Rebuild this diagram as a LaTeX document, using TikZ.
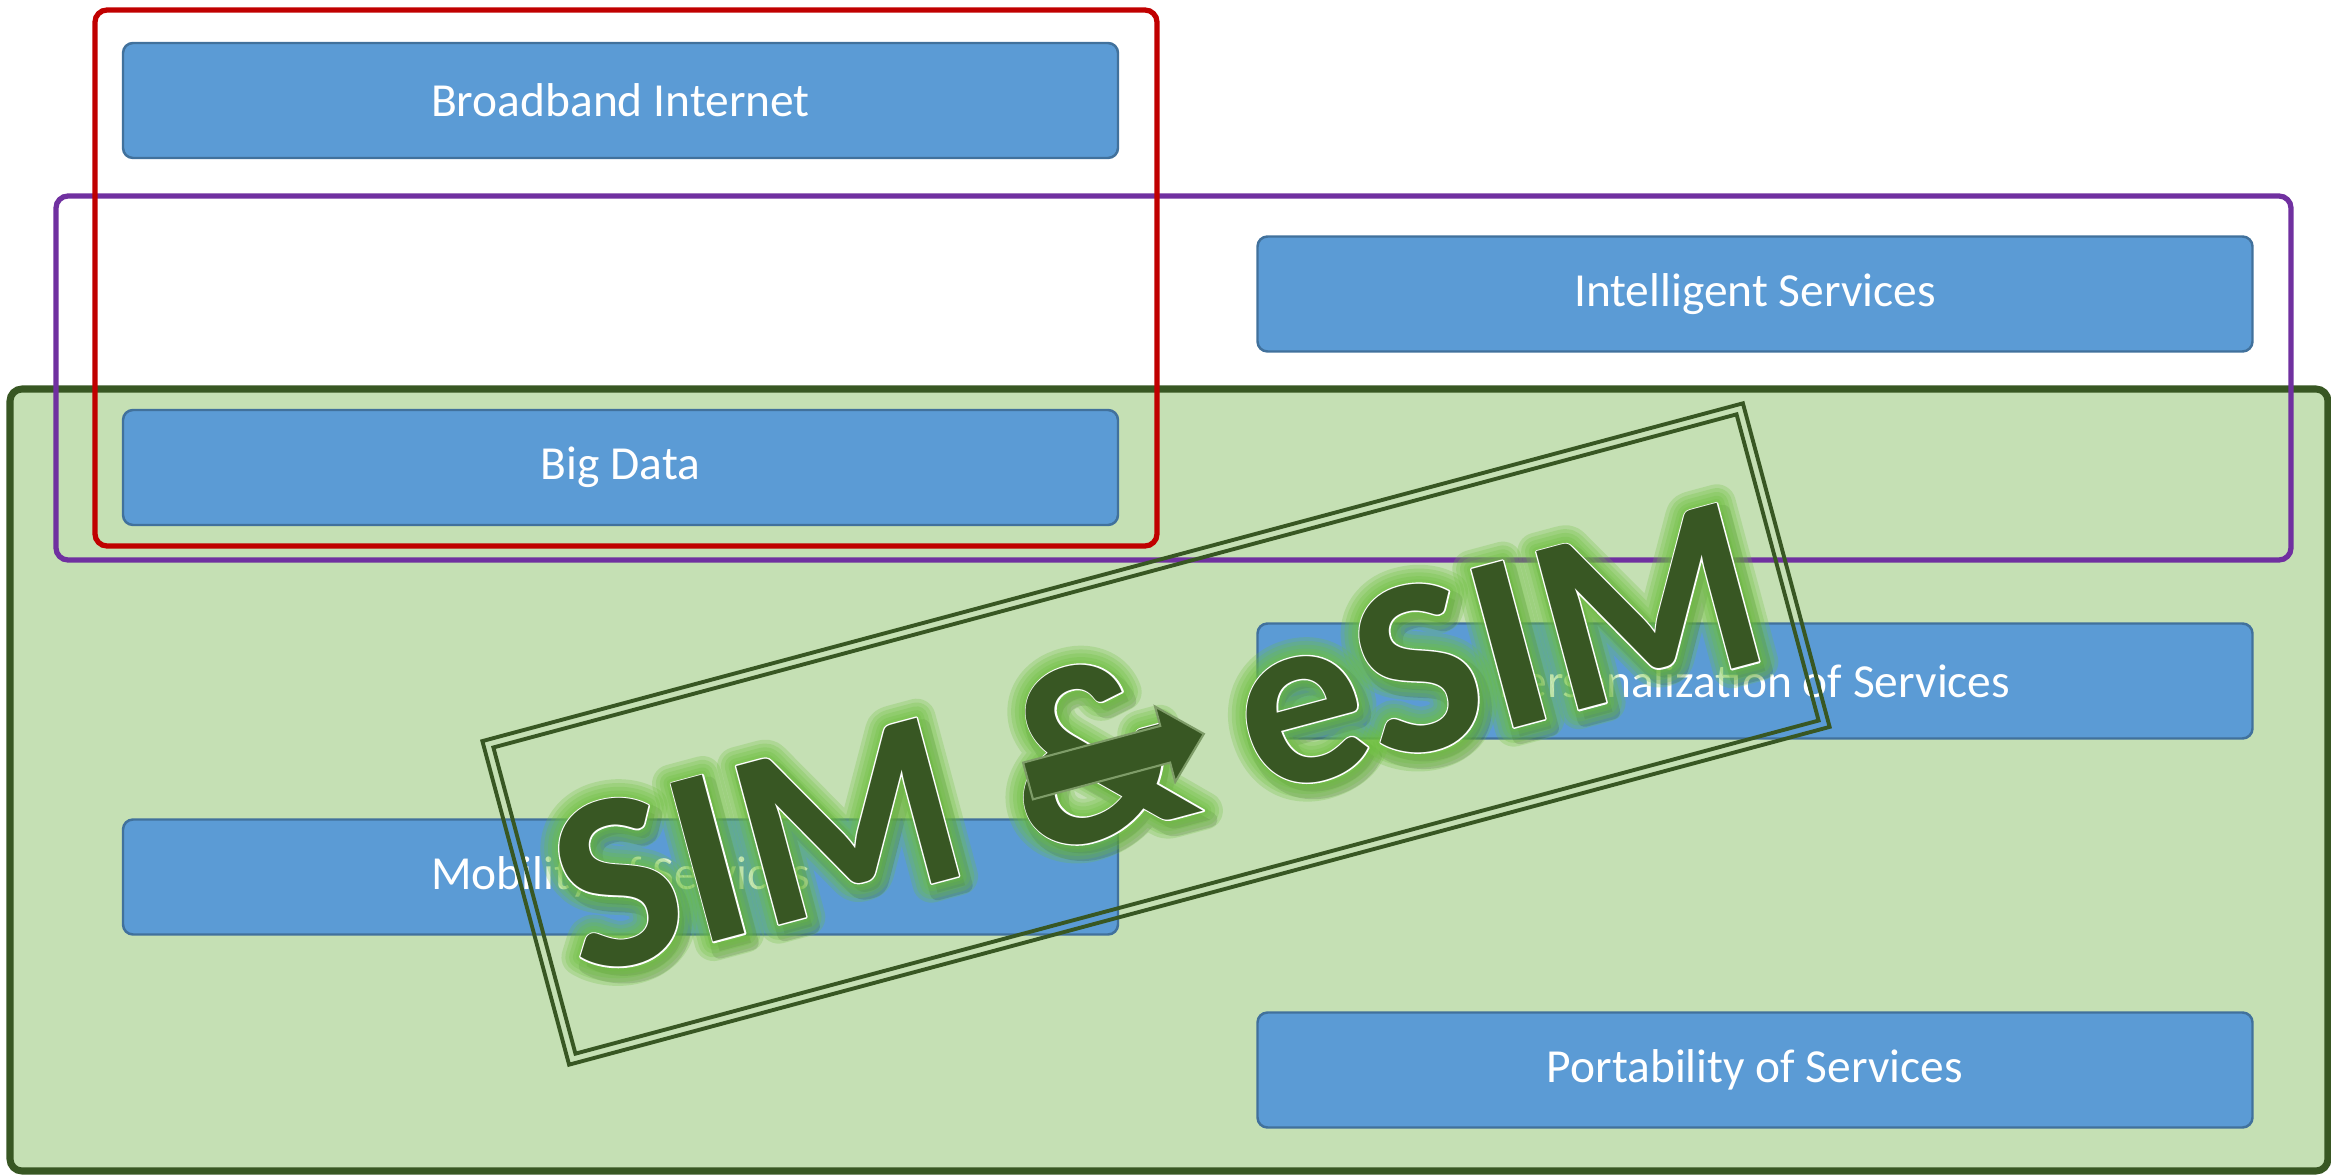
\documentclass[tikz,border=0pt]{standalone}
\usepackage{fontspec}
\setmainfont{Carlito}
\newfontfamily\sellofont{Carlito Bold}
\newfontfamily\sellohaloa[FakeBold=15]{Carlito Bold}
\newfontfamily\sellohalob[FakeBold=12]{Carlito Bold}
\newfontfamily\sellohaloc[FakeBold=9]{Carlito Bold}
\newfontfamily\sellohalod[FakeBold=6]{Carlito Bold}
\newfontfamily\sellohaloe[FakeBold=3.5]{Carlito Bold}
\newfontfamily\sellolinea[FakeBold=1.1]{Carlito Bold}
\usetikzlibrary{positioning,calc}

\definecolor{cajaazul}{HTML}{5B9BD5}
\definecolor{bordeazul}{HTML}{41719C}
\definecolor{verdeclaro}{HTML}{C5E0B4}
\definecolor{verdeoscuro}{HTML}{385723}
\definecolor{verdebrillo}{HTML}{6CC03C}
\definecolor{verdeborde}{HTML}{7E9C68}
\definecolor{morado}{HTML}{7030A0}
\definecolor{rojo}{HTML}{C00000}

\begin{document}
\begin{tikzpicture}[x=1cm, y=-1cm,
  caja/.style={rectangle, rounded corners=0.1cm, draw=bordeazul, line width=0.7pt,
    fill=cajaazul, text=white, minimum width=9.95cm, minimum height=1.15cm,
    font=\fontsize{13.5}{16}\selectfont},
  marco/.style={rounded corners=0.12cm, line width=1.5pt},
  sello/.style={rotate=15, inner sep=0pt, line join=round, line cap=round},
  halo/.style={sello, text=verdebrillo, opacity=0.25}]

\useasboundingbox (0,0) rectangle (23.31,11.75);

% Zona verde de fondo
\draw[marco, draw=verdeoscuro, fill=verdeclaro, line width=2pt] (0.10,3.89) rectangle (23.28,11.71);

% Cajas de servicios
\node[caja] (banda) at (6.205,1.005) {Broadband Internet};
\node[caja] (datos) at (6.205,4.675) {Big Data};
\node[caja] (movil) at (6.205,8.770) {Mobility of Services};
\node[caja] (intel) at (17.550,2.940) {Intelligent Services};
\node[caja] (perso) at (17.550,6.810) {Personalization of Services};
\node[caja] (porta) at (17.550,10.700) {Portability of Services};

% Marcos de agrupacion
\draw[marco, draw=morado] (0.56,1.96) rectangle (22.91,5.60);
\draw[marco, draw=rojo] (0.95,0.10) rectangle (11.57,5.46);

% Sello girado
\coordinate (centro) at (11.56,7.34);
\begin{scope}[rotate around={15:(centro)}]
  \draw[verdeoscuro, line width=1.1pt] (5.035,5.665) rectangle (18.085,9.015);
  \draw[verdeoscuro, line width=1.1pt] (5.125,5.755) rectangle (17.995,8.925);
\end{scope}

% Sombra, brillo, contorno y texto del sello
\node[sello, text=black, opacity=0.15, font=\sellohalod\fontsize{72}{80}\selectfont]
  (sombra) at ($(centro)+(0.06,0.09)$) {SIM \& eSIM};
\node[halo, font=\sellohaloa\fontsize{72}{80}\selectfont] (haloa) at (centro) {SIM \& eSIM};
\node[halo, font=\sellohalob\fontsize{72}{80}\selectfont] (halob) at (centro) {SIM \& eSIM};
\node[halo, font=\sellohaloc\fontsize{72}{80}\selectfont] (haloc) at (centro) {SIM \& eSIM};
\node[halo, font=\sellohalod\fontsize{72}{80}\selectfont] (halod) at (centro) {SIM \& eSIM};
\node[halo, font=\sellohaloe\fontsize{72}{80}\selectfont] (haloe) at (centro) {SIM \& eSIM};
\node[sello, text=white, font=\sellolinea\fontsize{72}{80}\selectfont]
  (linea) at (centro) {SIM \& eSIM};
\node[sello, text=verdeoscuro, font=\sellofont\fontsize{72}{80}\selectfont]
  (texto) at (centro) {SIM \& eSIM};

% Flecha sobre el signo &
\begin{scope}[shift={(10.28,7.81)}, rotate=15]
  \draw[fill=verdeoscuro, draw=verdeborde, line width=0.6pt, line join=miter]
    (0,-0.19) -- (1.42,-0.19) -- (1.42,-0.39) -- (1.82,0) -- (1.42,0.39) -- (1.42,0.19) -- (0,0.19) -- cycle;
\end{scope}

\end{tikzpicture}
\end{document}
